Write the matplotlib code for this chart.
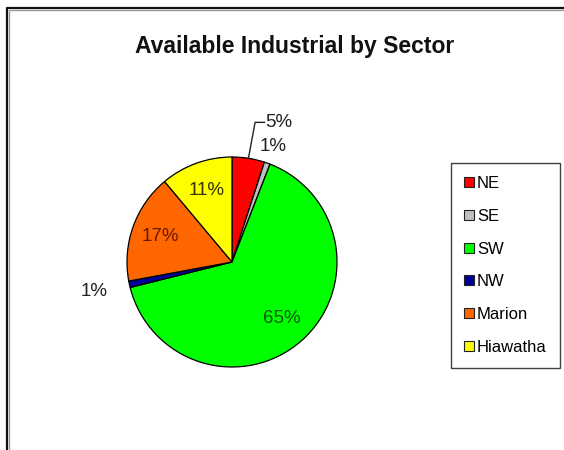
import numpy as np
import matplotlib
matplotlib.use("Agg")
import matplotlib.pyplot as plt
from matplotlib.lines import Line2D
from matplotlib.patches import Patch

plt.rcParams["font.family"] = ["Liberation Sans", "DejaVu Sans"]

TITLE = "Available Industrial by Sector"
SECTORS = ["NE", "SE", "SW", "NW", "Marion", "Hiawatha"]
SHARES = [5.0, 0.9, 65.2, 1.0, 16.8, 11.1]
COLORS = ["#ff0000", "#c0c0c0", "#00ff00", "#000099", "#ff6600", "#ffff00"]
LABEL_COLORS = ["#222222", "#222222", "#0a5a0a", "#222222", "#6a1a00", "#333300"]

W, H = 564, 450
CX, CY, R = 232, 262, 105


def main():
    fig = plt.figure(figsize=(W / 100, H / 100), dpi=100)

    # outer chart frame (only top and left visible in the crop)
    for off, col, lw in [(0, "#111111", 1.6), (1.5, "#9a9a9a", 1.0)]:
        x0 = (7 + off) / W
        y0 = 1 - (8 + off) / H
        fig.add_artist(Line2D([x0, x0, 1.0], [0.0, y0, y0], color=col,
                              lw=lw, transform=fig.transFigure))

    fig.text(295 / W, 1 - 46 / H, TITLE, ha="center", va="center",
             fontsize=16.5, fontweight="bold", color="#111111")

    ax = fig.add_axes([(CX - R) / W, (H - CY - R) / H, 2 * R / W, 2 * R / H])
    wedges, _ = ax.pie(SHARES, colors=COLORS, startangle=90, counterclock=False,
                       wedgeprops=dict(edgecolor="black", linewidth=0.9))
    ax.set_xlim(-1, 1)
    ax.set_ylim(-1, 1)

    total = sum(SHARES)
    cum = np.cumsum([0] + SHARES[:-1])
    for i, share in enumerate(SHARES):
        mid = np.deg2rad(90 - (cum[i] + share / 2) / total * 360)
        dx, dy = np.cos(mid), np.sin(mid)
        txt = f"{share / total * 100:.0f}%"
        if share >= 10:
            ax.text(0.72 * dx, 0.72 * dy, txt, ha="center", va="center",
                    fontsize=13.5, color=LABEL_COLORS[i])
        elif SECTORS[i] == "NE":
            # leader line up to the label
            ax.plot([dx, 0.22, 0.31], [dy, 1.33, 1.33], color="#222222",
                    lw=1.0, clip_on=False)
            ax.text(0.32, 1.33, txt, ha="left", va="center", fontsize=13.5,
                    color=LABEL_COLORS[i])
        elif SECTORS[i] == "SE":
            ax.text(1.17 * dx, 1.17 * dy, txt, ha="center", va="center",
                    fontsize=13.5, color=LABEL_COLORS[i])
        else:
            ax.text(1.34 * dx, 1.34 * dy, txt, ha="center", va="center",
                    fontsize=13.5, color=LABEL_COLORS[i])

    handles = [Patch(facecolor=c, edgecolor="#222222", linewidth=0.8) for c in COLORS]
    leg = fig.legend(handles, SECTORS, loc="upper left",
                     bbox_to_anchor=(451 / W, 1 - 163 / H), borderaxespad=0,
                     fontsize=12, frameon=True, fancybox=False,
                     handlelength=0.6, handleheight=0.55, handletextpad=0.15,
                     labelspacing=1.06, borderpad=0.8)
    leg.get_frame().set_edgecolor("#111111")
    leg.get_frame().set_linewidth(1.0)

    fig.savefig("out.png", dpi=100)


if __name__ == "__main__":
    main()
